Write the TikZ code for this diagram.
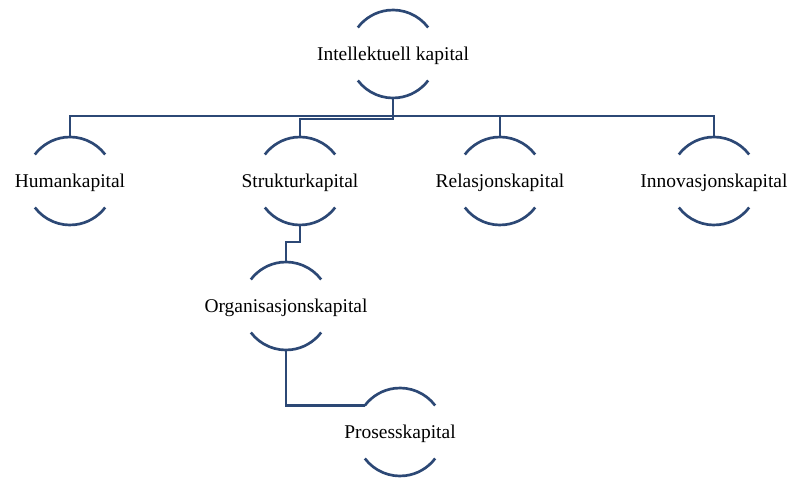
\documentclass[tikz,border=0pt]{standalone}
\usepackage{fontspec}
\setmainfont{Liberation Serif}
\usetikzlibrary{positioning}
\definecolor{kapblue}{RGB}{44,72,117}
\newcommand{\kaptext}[1]{\makebox[0pt]{\smash{\raisebox{-5pt}{#1}}}}

\begin{document}
\begin{tikzpicture}[
    x=0.75pt, y=0.75pt,
    kap/.style={circle, minimum size=66pt, inner sep=0pt, outer sep=0pt, font=\fontsize{14.6}{16}\selectfont},
    arcline/.style={kapblue, line width=2pt},
    link/.style={kapblue, line width=2pt},
]
\useasboundingbox (0,0) rectangle (790,479);

% Nodes
\node[kap] (intkap) at (393,425) {\kaptext{Intellektuell kapital}};
\node[kap] (human) at (70,298) {\kaptext{Humankapital}};
\node[kap] (struktur) at (300,298) {\kaptext{Strukturkapital}};
\node[kap] (relasjon) at (500,298) {\kaptext{Relasjonskapital}};
\node[kap] (innovasjon) at (714,298) {\kaptext{Innovasjonskapital}};
\node[kap] (organisasjon) at (286,173) {\kaptext{Organisasjonskapital}};
\node[kap] (prosess) at (400,47) {\kaptext{Prosesskapital}};

% Arcs
\foreach \n in {intkap,human,struktur,relasjon,innovasjon,organisasjon,prosess}
  \draw[arcline] (\n.37) arc[start angle=37, end angle=143, radius=33pt]
                 (\n.217) arc[start angle=217, end angle=323, radius=33pt];

% Connectors
\draw[link] (intkap.south) -- ++(0,-18) -| (human.north);
\draw[link] (intkap.south) -- ++(0,-21) -| (struktur.north);
\draw[link] (intkap.south) -- ++(0,-18) -| (relasjon.north);
\draw[link] (intkap.south) -- ++(0,-18) -| (innovasjon.north);
\draw[link] (struktur.south) -- ++(0,-17) -| (organisasjon.north);
\draw[link] (organisasjon.south) |- (prosess.143);

\end{tikzpicture}
\end{document}
